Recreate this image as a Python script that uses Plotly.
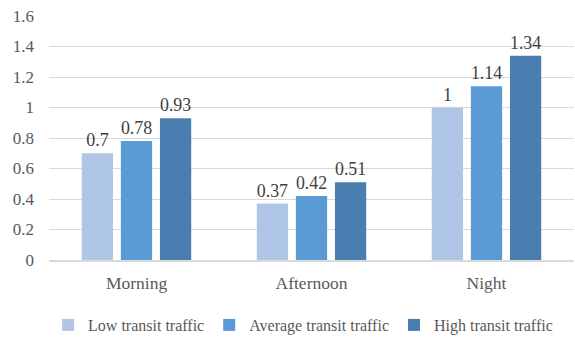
import plotly.graph_objects as go

periods = ["Morning", "Afternoon", "Night"]
series_names = ["Low transit traffic", "Average transit traffic", "High transit traffic"]
low = [0.7, 0.37, 1.0]
average = [0.78, 0.42, 1.14]
high = [0.93, 0.51, 1.34]
y_ticks = [0, 0.2, 0.4, 0.6, 0.8, 1.0, 1.2, 1.4, 1.6]
y_tick_text = ["0", "0.2", "0.4", "0.6", "0.8", "1", "1.2", "1.4", "1.6"]

colors = ["#AFC6E6", "#5B9BD5", "#4A7EB1"]
font_family = "Liberation Serif, Times New Roman, serif"


def fmt(v):
    return "%g" % v


fig = go.Figure()
for name, vals, col in zip(series_names, [low, average, high], colors):
    fig.add_trace(go.Bar(
        name=name,
        x=periods,
        y=vals,
        marker=dict(color=col, line=dict(width=0)),
        text=[fmt(v) for v in vals],
        textposition="outside",
        textfont=dict(family=font_family, size=18, color="#404040"),
        cliponaxis=False,
    ))

fig.update_layout(
    width=575,
    height=337,
    margin=dict(l=49, r=1, t=16, b=77, autoexpand=False),
    paper_bgcolor="white",
    plot_bgcolor="white",
    barmode="group",
    bargap=0.33,
    bargroupgap=0.2,
    font=dict(family=font_family, size=16, color="#595959"),
    showlegend=True,
    legend=dict(
        orientation="h",
        x=0.484,
        xanchor="center",
        yref="container",
        y=12 / 337,
        yanchor="middle",
        font=dict(family=font_family, size=16, color="#595959"),
        itemwidth=30,
        tracegroupgap=0,
    ),
    xaxis=dict(
        showgrid=False,
        showline=True,
        linecolor="#D9D9D9",
        linewidth=1.5,
        ticks="",
        ticklabelstandoff=6,
        tickfont=dict(family=font_family, size=17.5, color="#595959"),
    ),
    yaxis=dict(
        range=[0, 1.6],
        tickvals=y_ticks,
        ticktext=y_tick_text,
        showgrid=True,
        gridcolor="#D9D9D9",
        gridwidth=1,
        zeroline=False,
        showline=False,
        ticks="",
        ticklabelstandoff=14,
        tickfont=dict(family=font_family, size=17, color="#595959"),
    ),
)

fig.write_html("out.html")
